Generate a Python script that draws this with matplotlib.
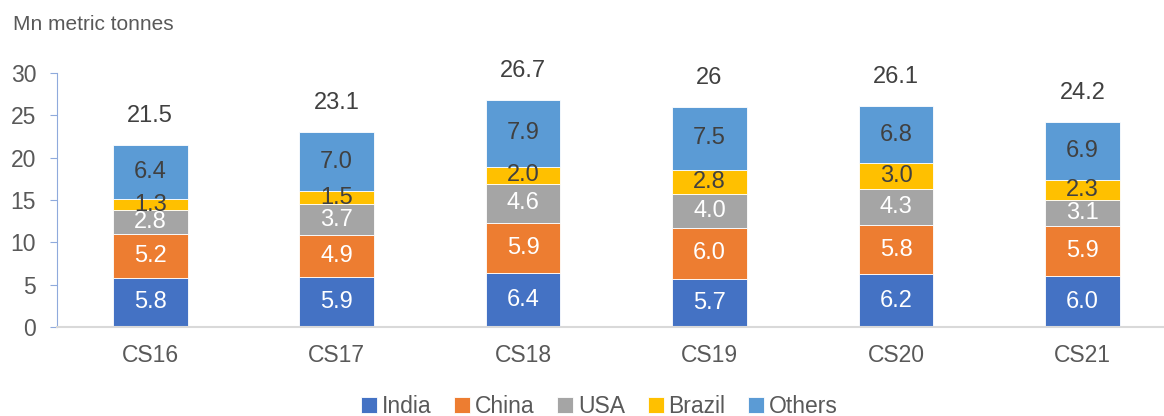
import matplotlib.pyplot as plt
import numpy as np

plt.rcParams['font.family'] = ['Liberation Sans', 'DejaVu Sans']

# Datos (millones de toneladas)
temporadas = ["CS16", "CS17", "CS18", "CS19", "CS20", "CS21"]
india = [5.8, 5.9, 6.4, 5.7, 6.2, 6.0]
china = [5.2, 4.9, 5.9, 6.0, 5.8, 5.9]
usa = [2.8, 3.7, 4.6, 4.0, 4.3, 3.1]
brasil = [1.3, 1.5, 2.0, 2.8, 3.0, 2.3]
otros = [6.4, 7.0, 7.9, 7.5, 6.8, 6.9]
totales = ["21.5", "23.1", "26.7", "26", "26.1", "24.2"]

series = [
    ("India", india, "#4472C4", "white"),
    ("China", china, "#ED7D31", "white"),
    ("USA", usa, "#A5A5A5", "white"),
    ("Brazil", brasil, "#FFC000", "#404040"),
    ("Others", otros, "#5B9BD5", "#404040"),
]

fig = plt.figure(figsize=(11.64, 4.16), dpi=100)
ax = fig.add_axes([0.049, 0.214, 0.961, 0.611])

x = np.arange(len(temporadas))
base = np.zeros(len(temporadas))
for nombre, valores, color, color_txt in series:
    valores = np.array(valores)
    barras = ax.bar(x, valores, width=0.4, bottom=base, color=color, label=nombre,
                    edgecolor="white", linewidth=0.6)
    ax.bar_label(barras, labels=[f"{v:.1f}" for v in valores], label_type="center",
                 color=color_txt, fontsize=17)
    base = base + valores

#Totales encima de cada barra
for xi, tope, txt in zip(x, base, totales):
    ax.annotate(txt, (xi, tope), xytext=(0, 21), textcoords="offset points",
                ha="center", va="center", fontsize=17, color="#404040")

ax.set_xlim(-0.5, len(temporadas) - 0.5)
ax.set_ylim(0, 30)
ax.set_yticks(range(0, 31, 5))
ax.set_xticks(x)
ax.set_xticklabels(temporadas)

for lado in ["top", "right"]:
    ax.spines[lado].set_visible(False)
ax.spines["left"].set_color("#8FAADC")
ax.spines["bottom"].set_color("#D9D9D9")
ax.spines["bottom"].set_linewidth(1.5)

ax.tick_params(axis="y", colors="#8FAADC", labelcolor="#595959", length=5, pad=10, labelsize=16.5)
ax.tick_params(axis="x", length=0, pad=12, labelcolor="#595959", labelsize=16.5)

fig.text(0.011, 1 - 24 / 416, "Mn metric tonnes", va="center", ha="left",
         fontsize=15, color="#595959")

fig.legend(loc="lower center", bbox_to_anchor=(0.515, -0.055), ncol=5, frameon=False,
           fontsize=16.5, handlelength=0.7, handleheight=0.7, handletextpad=0.2,
           columnspacing=1.0, labelcolor="#595959")

plt.savefig("out.png", dpi=100)
